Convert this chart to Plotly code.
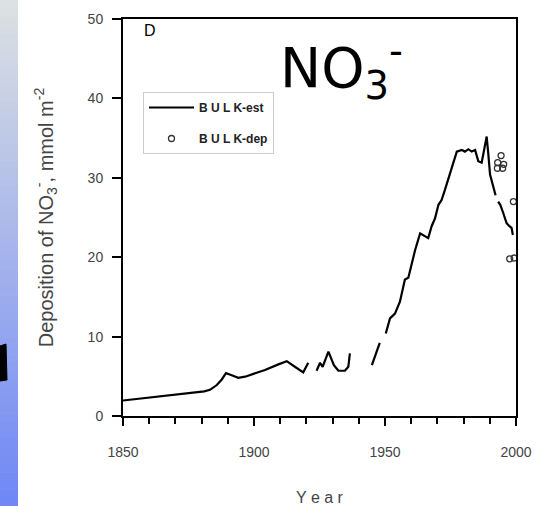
import plotly.graph_objects as go

# ---- data ----
est_years = [1850, 1860, 1870, 1878, 1881, 1883.2, 1885.8, 1887.7, 1889.3, 1891, 1894,
             1896.6, 1900, 1904.2, 1909.3, 1912.5, 1915.6, 1918.8, 1920.7, None,
             1923.9, 1925.2, 1926.2, 1928.4, 1930.5, 1932.2, 1934.7, 1936, 1936.6, None,
             1945, 1946.5, 1948, None,
             1950.3, 1951.9, 1953.8, 1955.7, 1957, 1957.6, 1958.9, 1960.2, 1961.5, 1963.4,
             1964.6, 1966.5, 1967.8, 1969.1, 1970.4, 1971.6, 1972.9, 1974.8, 1977.4,
             1979.3, 1980.5, 1981.8, 1983.1, 1984.4, 1985.6, 1986.9, 1988.2, 1988.8,
             1989.4, 1990.1, 1992.2, None,
             1993.2, 1994, 1995.1, 1996.4, 1997.5, 1998.3, 1998.8]
bulk_est = [1.95, 2.3, 2.65, 3.0, 3.1, 3.3, 3.9, 4.6, 5.4, 5.2, 4.8,
            4.95, 5.3, 5.8, 6.5, 6.9, 6.2, 5.5, 6.7, None,
            5.7, 6.7, 6.2, 8.1, 6.4, 5.7, 5.7, 6.2, 7.9, None,
            6.4, 7.8, 9.2, None,
            10.4, 12.3, 12.9, 14.4, 16.3, 17.2, 17.4, 19.3, 20.9, 23.0,
            22.8, 22.4, 23.9, 24.9, 26.6, 27.2, 28.5, 30.4, 33.3,
            33.5, 33.3, 33.6, 33.3, 33.5, 32.1, 31.9, 34.0, 35.2,
            33.1, 30.4, 27.8, None,
            27.0, 26.6, 25.6, 24.3, 23.9, 23.7, 22.8]

dep_years = [1994.3, 1993.0, 1995.3, 1992.9, 1994.9, 1999.0, 1997.6, 1999.3]
bulk_dep = [32.8, 31.9, 31.7, 31.2, 31.2, 27.0, 19.8, 19.9]

y_ticks = [0, 10, 20, 30, 40, 50]
x_ticks = [1850, 1900, 1950, 2000]

W, H = 554, 506
L, R, T, B = 123, 38, 19, 90
pw, ph = W - L - R, H - T - B


def px_x(p):
    return (p - L) / pw


def px_y(p):
    return (H - B - p) / ph


fig = go.Figure()
fig.add_trace(go.Scatter(
    x=est_years, y=bulk_est, mode="lines", name="<b>B U L K-est</b>",
    line=dict(color="black", width=2.2), connectgaps=False,
    legendgroup="a"))
fig.add_trace(go.Scatter(
    x=dep_years, y=bulk_dep, mode="markers", name="<b>B U L K-dep</b>",
    marker=dict(symbol="circle-open", size=6, color="#333", line=dict(width=1.3)),
    legendgroup="b"))

tick_font = dict(family="Liberation Sans, Arial, sans-serif", size=14, color="#444")

fig.update_xaxes(
    range=[1850, 2000], tickvals=x_ticks, ticks="outside", ticklen=8, tickwidth=2,
    tickcolor="black", showline=True, linecolor="black", linewidth=2, mirror=True,
    showgrid=False, zeroline=False, tickfont=tick_font, ticklabelstandoff=14,
    automargin=False,
    minor=dict(dtick=10, ticks="outside", ticklen=6, tickwidth=2, tickcolor="black"),
    title=dict(text="Y e a r", font=dict(family="Liberation Sans, Arial, sans-serif",
                                          size=16, color="#444"), standoff=33))
fig.update_yaxes(
    range=[0, 50], tickvals=y_ticks, ticks="outside", ticklen=9, tickwidth=2,
    tickcolor="black", showline=True, linecolor="black", linewidth=2, mirror=True,
    showgrid=False, zeroline=False, tickfont=tick_font, ticklabelstandoff=6,
    automargin=False,
    title=dict(text="Deposition of NO<sub>3</sub><sup>-</sup>, mmol m<sup>-2</sup>",
               font=dict(family="Liberation Sans, Arial, sans-serif", size=20, color="#444"),
               standoff=29))

shapes = []
# slide background strip at the left edge (vertical gradient)
n = 60
top = (220, 225, 226)
bot = (112, 136, 246)
for i in range(n):
    f = i / (n - 1)
    c = tuple(int(top[k] + (bot[k] - top[k]) * f) for k in range(3))
    y0p = i * H / n
    y1p = (i + 1) * H / n + 0.6
    shapes.append(dict(type="rect", xref="paper", yref="paper",
                       x0=px_x(0), x1=px_x(18), y0=px_y(y1p), y1=px_y(y0p),
                       fillcolor="rgb(%d,%d,%d)" % c, line=dict(width=0), layer="below"))
# cut-off glyph of the slide text
shapes.append(dict(type="path", xref="paper", yref="paper",
                   path="M %f %f L %f %f L %f %f L %f %f Z" % (
                       px_x(0), px_y(346), px_x(6), px_y(344), px_x(7), px_y(380), px_x(0), px_y(381)),
                   fillcolor="black", line=dict(color="black", width=1)))

fig.update_layout(
    width=W, height=H, margin=dict(l=L, r=R, t=T, b=B, autoexpand=False),
    paper_bgcolor="white", plot_bgcolor="white",
    shapes=shapes,
    showlegend=True,
    legend=dict(x=px_x(143), y=px_y(92), xanchor="left", yanchor="top",
                bordercolor="#cccccc", borderwidth=1, bgcolor="white",
                font=dict(family="Liberation Sans, Arial, sans-serif", size=12, color="#222"),
                tracegroupgap=12, itemwidth=45),
    annotations=[
        dict(text="D", x=px_x(142), y=px_y(31), xref="paper", yref="paper",
             xanchor="left", yanchor="middle", showarrow=False,
             font=dict(family="Liberation Sans, Arial, sans-serif", size=16, color="black")),
        dict(text="NO<sub>3</sub><sup>-</sup>", x=px_x(278), y=px_y(68), xref="paper",
             yref="paper", xanchor="left", yanchor="middle", showarrow=False,
             font=dict(family="DejaVu Sans, sans-serif", size=55, color="black")),
    ],
)

fig.write_html("out.html")
